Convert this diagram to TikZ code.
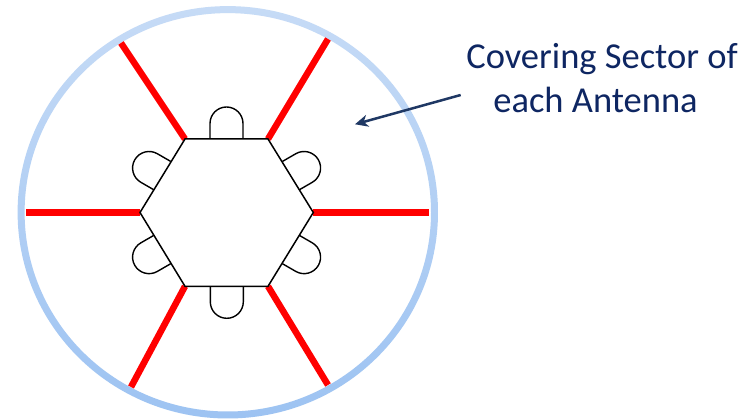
\documentclass[tikz,border=0pt]{standalone}
\usepackage{fontspec}
\setmainfont{Carlito}
\usetikzlibrary{arrows.meta}
\definecolor{ringtop}{RGB}{198,219,246}
\definecolor{ringmid}{RGB}{190,214,245}
\definecolor{ringbot}{RGB}{157,195,242}
\definecolor{navy}{RGB}{31,56,100}
\definecolor{textnavy}{RGB}{14,38,98}
\definecolor{sectorred}{RGB}{255,0,0}
\tikzset{
  sectorline/.style={draw=sectorred,line width=6.5pt},
  hexedge/.style={draw=black,line width=1.5pt,line join=miter},
  antennatab/.style={draw=black,line width=1.4pt,fill=white},
  labeltext/.style={font=\fontsize{36.5}{44}\selectfont,text=textnavy,anchor=base,inner sep=0pt},
  pointer/.style={draw=navy,line width=2.5pt,-{Stealth[length=13pt,width=12pt,inset=4pt]}}
}
\begin{document}
\begin{tikzpicture}[x=1pt,y=1pt]
\useasboundingbox (0,0) rectangle (747,420);
\fill[white] (0,0) rectangle (747,420);
% ring
\coordinate (c) at (227.8,207.7);
\shade[top color=ringtop,middle color=ringmid,bottom color=ringbot,even odd rule]
  (c) ellipse [x radius=210.2,y radius=206.2] (c) ellipse [x radius=203.2,y radius=199.2];
% hexagon vertices
\coordinate (A) at (185,281);
\coordinate (B) at (268,281);
\coordinate (R) at (313.3,207.5);
\coordinate (D) at (268,133.7);
\coordinate (E) at (185,133.7);
\coordinate (L) at (140,207.5);
% outer ends of red lines
\coordinate (Ao) at (121,377);
\coordinate (Bo) at (328,381);
\coordinate (Ro) at (429,207.5);
\coordinate (Do) at (328,35);
\coordinate (Eo) at (131,33);
\coordinate (Lo) at (26,207.5);
\draw[sectorline] (A) -- (Ao);
\draw[sectorline] (B) -- (Bo);
\draw[sectorline] (R) -- (Ro);
\draw[sectorline] (D) -- (Do);
\draw[sectorline] (E) -- (Eo);
\draw[sectorline] (L) -- (Lo);
% antenna tabs
\foreach \mx/\my/\a in {226.5/281/90, 290.65/244.25/30, 290.65/170.6/-30, 226.8/133.7/-90, 162.5/170.6/210, 162.5/244.25/150}{
  \begin{scope}[shift={(\mx,\my)},rotate=\a-90]
    \draw[antennatab] (-16.5,0) -- (-16.5,15.5) arc[start angle=180,end angle=0,radius=16.5] -- (16.5,0);
  \end{scope}
}
% hexagon
\draw[hexedge,fill=white] (A) -- (B) -- (R) -- (D) -- (E) -- (L) -- cycle;
% label
\node[labeltext] (l1) at (602,351) {Covering Sector of};
\node[labeltext] (l2) at (595.5,307) {each Antenna};
\coordinate (ptail) at (460.7,325);
\coordinate (phead) at (355,295.7);
\draw[pointer] (ptail) -- (phead);
\end{tikzpicture}
\end{document}
